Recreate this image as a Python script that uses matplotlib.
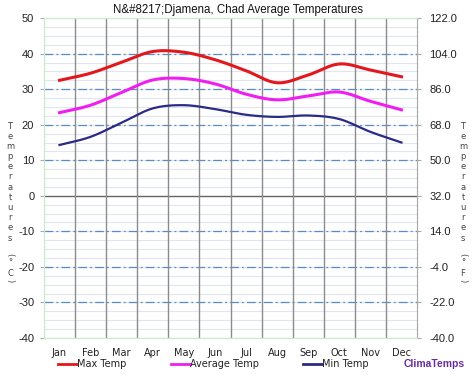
import numpy as np
import matplotlib
matplotlib.use('Agg')
from matplotlib import pyplot as plt

months = ['Jan', 'Feb', 'Mar', 'Apr', 'May', 'Jun', 'Jul', 'Aug', 'Sep', 'Oct', 'Nov', 'Dec']
max_temp = [32.5, 34.5, 37.6, 40.6, 40.4, 38.3, 35.2, 31.8, 34.0, 37.1, 35.4, 33.5]
avg_temp = [23.4, 25.5, 29.1, 32.6, 33.0, 31.5, 28.6, 27.0, 28.1, 29.2, 26.6, 24.2]
min_temp = [14.3, 16.6, 20.6, 24.6, 25.5, 24.4, 22.8, 22.2, 22.6, 21.6, 18.0, 15.0]

c_ticks = [50, 40, 30, 20, 10, 0, -10, -20, -30, -40]

ARIAL = 'Liberation Sans'


def smooth(y, n=20):
    # catmull-rom through the monthly points
    y = np.asarray(y, float)
    p = np.concatenate([[2 * y[0] - y[1]], y, [2 * y[-1] - y[-2]]])
    xs, ys = [], []
    for i in range(len(y) - 1):
        p0, p1, p2, p3 = p[i], p[i + 1], p[i + 2], p[i + 3]
        t = np.linspace(0, 1, n, endpoint=False)
        v = 0.5 * (2 * p1 + (-p0 + p2) * t + (2 * p0 - 5 * p1 + 4 * p2 - p3) * t ** 2
                   + (-p0 + 3 * p1 - 3 * p2 + p3) * t ** 3)
        xs.append(i + t)
        ys.append(v)
    xs.append([len(y) - 1])
    ys.append([y[-1]])
    return np.concatenate(xs), np.concatenate(ys)


fig = plt.figure(figsize=(4.74, 3.75), dpi=100)
ax = fig.add_axes([0.0928, 0.0987, 0.787, 0.853])

ax.set_xlim(-0.5, 11.5)
ax.set_ylim(-40, 50)

# grid
for v in np.arange(-40, 50.1, 2.5):
    ax.axhline(v, color='#dfe6ef', lw=0.8, zorder=0)
for v in [40, 30, 20, 10, -10, -20, -30]:
    ax.axhline(v, color='#5a8cc2', lw=0.9, ls=(0, (7, 2.5, 1.5, 2.5)), zorder=1)
ax.axhline(0, color='#666666', lw=1, zorder=1)
for xv in np.arange(0.5, 11, 1):
    ax.axvline(xv, color='#8c8c8c', lw=1, zorder=1)

x, y = smooth(max_temp)
ax.plot(x, y, color='#e3171e', lw=2.2, zorder=3)
x, y = smooth(avg_temp)
ax.plot(x, y, color='#f01ef0', lw=2.2, zorder=3)
x, y = smooth(min_temp)
ax.plot(x, y, color='#2b2a86', lw=1.6, zorder=3)

for s in ax.spines.values():
    s.set_color('#c8ecc8')

ax.set_xticks(range(12))
ax.set_xticklabels(months, fontsize=7, color='#222222')
ax.tick_params(axis='x', length=0, pad=7)
ax.set_yticks(c_ticks)
ax.set_yticklabels([str(v) for v in c_ticks], fontsize=8, color='#222222', family=ARIAL)
ax.tick_params(axis='y', length=3, color='#aaaaaa', pad=4)

ax2 = ax.twinx()
ax2.set_ylim(-40 * 1.8 + 32, 50 * 1.8 + 32)
ax2.set_yticks([v * 1.8 + 32 for v in c_ticks])
ax2.set_yticklabels(['%.1f' % (v * 1.8 + 32) for v in c_ticks], fontsize=8, color='#222222',
                    family=ARIAL)
ax2.tick_params(axis='y', length=3, color='#aaaaaa', pad=6)
for s in ax2.spines.values():
    s.set_color('#c8ecc8')
ax2.spines['right'].set_color('#aaaaaa')

fig.text(0.503, 0.973, 'N&#8217;Djamena, Chad Average Temperatures', ha='center', va='center',
         fontsize=8.3, color='#111111', family=ARIAL)

# stacked axis titles
def stacked(xpix, unit):
    ypix = 126
    for ch in 'Temperatures':
        fig.text(xpix / 474, 1 - ypix / 375, ch, ha='center', va='center', fontsize=6,
                 color='#444444')
        ypix += 10.2
    for ch, rot, yp in [('(', -90, 255), ('°', 0, 263), (unit, 0, 273), (')', -90, 281)]:
        fig.text(xpix / 474, 1 - yp / 375, ch, ha='center', va='center', fontsize=6,
                 color='#444444', rotation=rot)

stacked(10, 'C')
stacked(463, 'F')

# legend
leg = [('Max Temp', '#e3171e', 58), ('Average Temp', '#f01ef0', 171), ('Min Temp', '#2b2a86', 303)]
for name, col, xp in leg:
    fig.add_artist(plt.Line2D([xp / 474, (xp + 19) / 474], [1 - 364 / 375] * 2, color=col, lw=2))
    fig.text((xp + 19) / 474, 1 - 364 / 375, name, ha='left', va='center', fontsize=7,
             color='#222222')
fig.text(465 / 474, 1 - 364 / 375, 'ClimaTemps', ha='right', va='center', fontsize=7.5,
         color='#6a2c9a', fontweight='bold', family=ARIAL)

plt.savefig('out.png', dpi=100)
